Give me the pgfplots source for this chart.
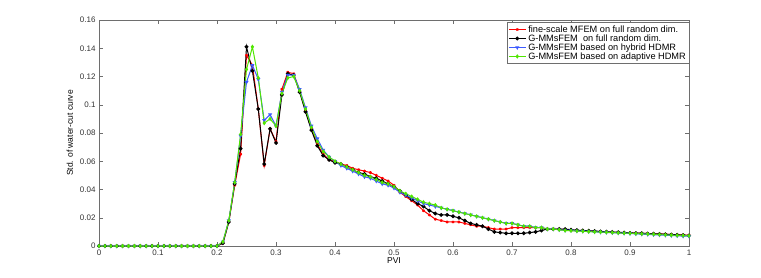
\documentclass[border=0pt]{standalone}
\usepackage{pgfplots}
\usepackage{pgfplotstable}
\pgfplotsset{compat=1.18}
\usepackage{fontspec}
\setmainfont{Liberation Sans}
\pgfplotstableread{
x r k b g
0.00 0 0 0 0
0.01 0 0 0 0
0.02 0 0 0 0
0.03 0 0 0 0
0.04 0 0 0 0
0.05 0 0 0 0
0.06 0 0 0 0
0.07 0 0 0 0
0.08 0 0 0 0
0.09 0 0 0 0
0.10 0 0 0 0
0.11 0 0 0 0
0.12 0 0 0 0
0.13 0 0 0 0
0.14 0 0 0 0
0.15 0 0 0 0
0.16 0 0 0 0
0.17 0 0 0 0
0.18 0 0 0 0
0.19 0 0 0 0
0.20 0 0 0 0
0.21 0.002 0.002 0.003 0.003
0.22 0.017 0.017 0.018 0.018
0.23 0.043 0.044 0.045 0.045
0.24 0.065 0.069 0.078 0.079
0.25 0.135 0.141 0.116 0.125
0.26 0.128 0.124 0.128 0.141
0.27 0.097 0.097 0.118 0.119
0.28 0.057 0.058 0.089 0.087
0.29 0.083 0.083 0.093 0.090
0.30 0.074 0.073 0.085 0.085
0.31 0.111 0.107 0.109 0.108
0.32 0.123 0.122 0.121 0.119
0.33 0.122 0.121 0.121 0.120
0.34 0.110 0.109 0.111 0.110
0.35 0.096 0.095 0.098 0.097
0.36 0.083 0.082 0.085 0.084
0.37 0.072 0.071 0.076 0.074
0.38 0.065 0.064 0.068 0.067
0.39 0.061 0.061 0.063 0.063
0.40 0.060 0.059 0.060 0.060
0.41 0.058 0.058 0.057 0.058
0.42 0.057 0.056 0.055 0.056
0.43 0.055 0.054 0.053 0.054
0.44 0.054 0.052 0.051 0.052
0.45 0.053 0.051 0.049 0.050
0.46 0.052 0.049 0.048 0.049
0.47 0.050 0.048 0.046 0.047
0.48 0.048 0.046 0.044 0.045
0.49 0.046 0.044 0.043 0.044
0.50 0.043 0.042 0.041 0.042
0.51 0.038 0.039 0.038 0.039
0.52 0.035 0.036 0.036 0.037
0.53 0.032 0.033 0.034 0.035
0.54 0.029 0.030 0.032 0.033
0.55 0.025 0.028 0.030 0.031
0.56 0.022 0.025 0.029 0.030
0.57 0.019 0.023 0.028 0.029
0.58 0.018 0.022 0.027 0.027
0.59 0.017 0.022 0.026 0.026
0.60 0.017 0.021 0.025 0.025
0.61 0.017 0.020 0.024 0.024
0.62 0.016 0.018 0.023 0.023
0.63 0.015 0.016 0.022 0.022
0.64 0.014 0.015 0.021 0.021
0.65 0.014 0.014 0.020 0.020
0.66 0.013 0.012 0.019 0.019
0.67 0.012 0.010 0.018 0.018
0.68 0.012 0.0095 0.017 0.017
0.69 0.012 0.009 0.016 0.016
0.70 0.013 0.009 0.016 0.016
0.71 0.013 0.009 0.015 0.015
0.72 0.013 0.009 0.014 0.014
0.73 0.013 0.0095 0.014 0.014
0.74 0.013 0.010 0.013 0.013
0.75 0.013 0.011 0.013 0.013
0.76 0.012 0.012 0.012 0.012
0.77 0.012 0.012 0.012 0.012
0.78 0.012 0.012 0.0115 0.0115
0.79 0.0115 0.012 0.011 0.011
0.80 0.011 0.0115 0.011 0.0108
0.81 0.011 0.0112 0.0106 0.0106
0.82 0.0108 0.011 0.0104 0.0104
0.83 0.0106 0.0108 0.0102 0.0102
0.84 0.0104 0.0106 0.010 0.010
0.85 0.0102 0.0103 0.0098 0.0099
0.86 0.010 0.0101 0.0096 0.0097
0.87 0.0098 0.0099 0.0094 0.0095
0.88 0.0096 0.0097 0.0092 0.0093
0.89 0.0094 0.0095 0.009 0.0091
0.90 0.0093 0.0093 0.0088 0.009
0.91 0.0092 0.0091 0.0086 0.0088
0.92 0.009 0.009 0.0084 0.0086
0.93 0.0089 0.0088 0.0082 0.0085
0.94 0.0087 0.0087 0.008 0.0083
0.95 0.0086 0.0085 0.0078 0.0081
0.96 0.0084 0.0083 0.0076 0.0079
0.97 0.0082 0.0081 0.0074 0.0077
0.98 0.008 0.0079 0.0072 0.0075
0.99 0.0078 0.0077 0.0070 0.0074
1.00 0.0076 0.0075 0.0069 0.0072
}\datatable
\definecolor{mred}{RGB}{255,0,0}
\definecolor{mgreen}{RGB}{80,230,0}
\definecolor{mblue}{RGB}{60,90,255}
\definecolor{axgray}{RGB}{110,110,110}
\begin{document}
\begin{tikzpicture}
\useasboundingbox (0,0) rectangle (761pt,277pt);
\begin{axis}[
  at={(99pt,31pt)}, anchor=south west,
  scale only axis, width=590pt, height=226pt,
  xmin=0, xmax=1, ymin=0, ymax=0.16,
  xtick={0,0.1,...,1}, ytick={0,0.02,...,0.16},
  tick align=inside, tick pos=both,
  major tick length=4pt,
  axis line style={axgray, line width=0.8pt},
  every tick/.style={axgray},
  tick label style={font=\fontsize{8}{9}\selectfont, text=black!80},
  /pgf/number format/assume math mode=true,
  yticklabel style={/pgf/number format/fixed, /pgf/number format/precision=2},
  xticklabel style={/pgf/number format/fixed},
  scaled y ticks=false,
  xlabel={PVI}, ylabel={Std. of water-cut curve},
  label style={font=\fontsize{8.5}{9}\selectfont},
  xlabel style={yshift=4pt},
  ylabel style={yshift=0pt},
  legend style={at={(1,0.99)}, anchor=north east, font=\fontsize{9.2}{10}\selectfont,
    draw=axgray, inner sep=1pt, row sep=-3.2pt, legend cell align=left},
  every axis plot/.append style={line width=1pt, mark size=1.4pt},
]
\addplot[mred, mark=asterisk, mark options={line width=0.9pt}] table[x=x,y=r] {\datatable};
\addlegendentry{fine-scale MFEM on full random dim.}
\addplot[black, mark=*] table[x=x,y=k] {\datatable};
\addlegendentry{G-MMsFEM\ \ on full random dim.}
\addplot[mblue, mark=triangle*, mark options={rotate=180}] table[x=x,y=b] {\datatable};
\addlegendentry{G-MMsFEM based on hybrid HDMR}
\addplot[mgreen, mark=diamond*, mark options={}] table[x=x,y=g] {\datatable};
\addlegendentry{G-MMsFEM based on adaptive HDMR}
\end{axis}
\end{tikzpicture}
\end{document}
